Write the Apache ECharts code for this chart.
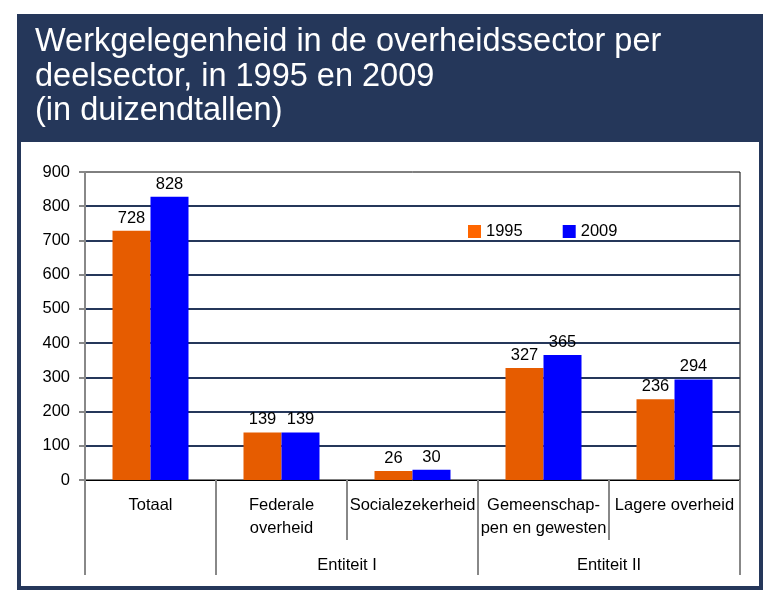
<!DOCTYPE html>
<html><head><meta charset="utf-8">
<script src="https://cdn.jsdelivr.net/npm/echarts@6/dist/echarts.min.js"></script>
<style>html,body{margin:0;padding:0;background:#fff}#c{width:776px;height:598px}</style>
</head><body><div id="c"></div>
<script>
const titleText = 'Werkgelegenheid in de overheidssector per\ndeelsector, in 1995 en 2009\n(in duizendtallen)';
const categories = ['Totaal', 'Federale\noverheid', 'Socialezekerheid', 'Gemeenschap-\npen en gewesten', 'Lagere overheid'];
const groups = ['Entiteit I', 'Entiteit II'];
const groupCenters = [2, 4];
const groupBounds = [0, 1, 3, 5];
const years = ['1995', '2009'];
const values1995 = [728, 139, 26, 327, 236];
const values2009 = [828, 139, 30, 365, 294];
const yTicks = [0, 100, 200, 300, 400, 500, 600, 700, 800, 900];

const NAVY = '#25375a';
const ORANGE = '#e65c00';
const BLUE = '#0000ff';
const FONT = 'Liberation Sans';
const FS = 16.5;

const chart = echarts.init(document.getElementById('c'), null, {renderer: 'canvas'});
chart.setOption({
  animation: false,
  backgroundColor: '#fff',
  textStyle: {fontFamily: FONT},
  graphic: [
    {type: 'rect', z: -10, shape: {x: 17, y: 14, width: 746, height: 576}, style: {fill: NAVY}},
    {type: 'rect', z: -9, shape: {x: 21, y: 142, width: 738, height: 444}, style: {fill: '#fff'}}
  ],
  title: {
    text: titleText, left: 30, top: 20,
    textStyle: {color: '#fff', fontFamily: FONT, fontSize: 32.5, fontWeight: 'normal', lineHeight: 34.5}
  },
  legend: {
    left: 468, top: 223, padding: 0, itemWidth: 13, itemHeight: 13, itemGap: 40,
    icon: 'rect',
    textStyle: {fontSize: FS, color: '#000', fontFamily: FONT},
    data: [{name: years[0], itemStyle: {color: '#ff6600'}}, {name: years[1], itemStyle: {color: BLUE}}]
  },
  grid: {left: 85, right: 36, top: 172, bottom: 118, show: true, borderColor: '#000', borderWidth: 1, backgroundColor: 'transparent'},
  xAxis: [
    {
      type: 'category', data: categories,
      axisLine: {lineStyle: {color: '#000', width: 1}},
      axisTick: {show: true, length: 60, interval: 0, lineStyle: {color: '#888', width: 2}},
      axisLabel: {interval: 0, margin: 14, fontSize: FS, lineHeight: 23, color: '#000', fontFamily: FONT}
    },
    {
      type: 'value', min: 0, max: 5, position: 'bottom',
      axisLine: {show: false}, splitLine: {show: false},
      axisTick: {show: true, customValues: groupBounds, length: 95, lineStyle: {color: '#888', width: 2}},
      axisLabel: {customValues: groupCenters, margin: 77, fontSize: FS, color: '#000', fontFamily: FONT,
        formatter: v => groups[groupCenters.indexOf(v)]}
    }
  ],
  yAxis: {
    type: 'value', min: yTicks[0], max: yTicks[yTicks.length - 1], interval: 100,
    axisLine: {show: true, lineStyle: {color: '#888', width: 2}},
    axisTick: {show: true, length: 6, lineStyle: {color: '#888', width: 2}},
    axisLabel: {margin: 15, fontSize: FS, color: '#000', fontFamily: FONT},
    splitLine: {show: true, showMinLine: false, showMaxLine: false, lineStyle: {color: NAVY, width: 2}}
  },
  series: [
    {name: years[0], type: 'bar', data: values1995, barWidth: 38, barGap: '0%',
     itemStyle: {color: ORANGE},
     label: {show: true, position: 'top', distance: 4, fontSize: FS, color: '#000', fontFamily: FONT}},
    {name: years[1], type: 'bar', data: values2009, barWidth: 38, barGap: '0%',
     itemStyle: {color: BLUE},
     label: {show: true, position: 'top', distance: 4, fontSize: FS, color: '#000', fontFamily: FONT}}
  ]
});
</script></body></html>
